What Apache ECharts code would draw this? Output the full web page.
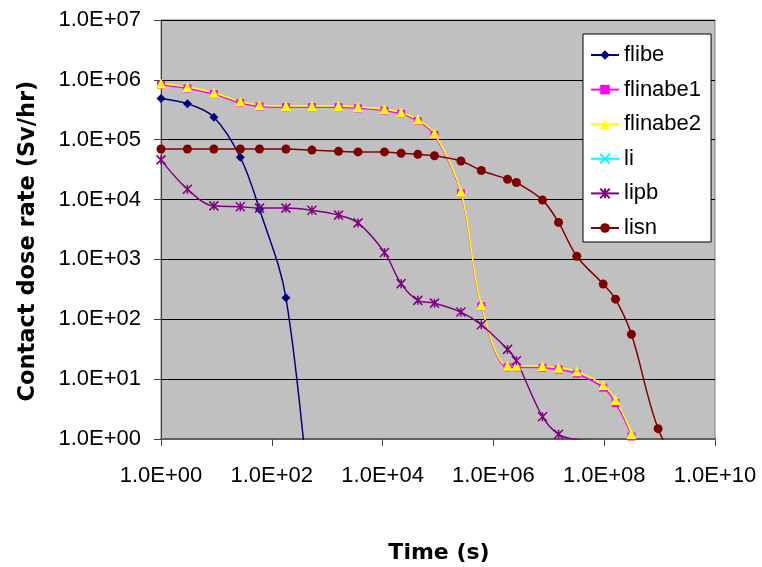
<!DOCTYPE html>
<html>
<head>
<meta charset="utf-8">
<script src="https://cdn.jsdelivr.net/npm/echarts@6/dist/echarts.min.js"></script>
<style>html,body{margin:0;padding:0;background:#fff;}#c{width:762px;height:567px;}</style>
</head>
<body>
<div id="c"></div>
<script>
// Time points (s)
const times = [1, 3, 9, 27, 60, 180, 530, 1600, 3600, 10800, 21600, 43200, 86400, 259200, 604800, 1.8e6, 2.6e6, 7.7e6, 1.5e7, 3.2e7, 9.6e7, 1.6e8, 3.1e8, 9.4e8, 3.15e9];
const seriesNames = ['flibe', 'flinabe1', 'flinabe2', 'li', 'lipb', 'lisn'];
const flibe = [4.9e5, 4.0e5, 2.38e5, 5.1e4, 6.9e3, 229, 0.03];
const flinabe1 = [8.3e5, 7.2e5, 5.8e5, 4.1e5, 3.6e5, 3.5e5, 3.5e5, 3.5e5, 3.35e5, 3.05e5, 2.7e5, 2.05e5, 1.2e5, 1.28e4, 165, 15.8, 15.8, 15.5, 14.5, 12.3, 7.2, 4.0, 1.1, 0.018];
const flinabe2 = [8.7e5, 7.6e5, 6.1e5, 4.35e5, 3.8e5, 3.67e5, 3.67e5, 3.67e5, 3.53e5, 3.23e5, 2.85e5, 2.17e5, 1.27e5, 1.35e4, 173, 16.7, 16.7, 16.5, 15.5, 13.5, 8.0, 4.5, 1.21, 0.02];
const li = [];
const lipb = [4.6e4, 1.49e4, 7.85e3, 7.6e3, 7.2e3, 7.2e3, 6.65e3, 5.5e3, 4.08e3, 1.31e3, 394, 207, 186, 132, 81, 31.4, 20.3, 2.36, 1.2, 0.98, 0.93];
const lisn = [7.0e4, 7.0e4, 7.0e4, 7.0e4, 7.0e4, 7.0e4, 6.7e4, 6.4e4, 6.25e4, 6.25e4, 5.95e4, 5.7e4, 5.4e4, 4.4e4, 3.06e4, 2.19e4, 1.93e4, 9.8e3, 4.15e3, 1.13e3, 387, 217, 56, 1.49, 0.2];
const yTickExp = [0, 1, 2, 3, 4, 5, 6, 7];
const xTickExp = [0, 2, 4, 6, 8, 10];

function pairs(vals) { return vals.map((v, i) => [times[i], v]); }
function fmt(v) {
  const e = Math.round(Math.log10(v));
  return '1.0E' + (e < 0 ? '-' : '+') + String(Math.abs(e)).padStart(2, '0');
}
const asterisk = 'path://M0,0L10,10M10,0L0,10M5,0L5,10';
const xmark = 'path://M0,0L10,10M10,0L0,10';

const styles = {
  flibe: { color: '#000080', symbol: 'diamond', size: 9 },
  flinabe1: { color: '#ff00ff', symbol: 'rect', size: 8 },
  flinabe2: { color: '#ffff00', symbol: 'triangle', size: 10 },
  li: { color: '#00ffff', symbol: xmark, size: 8, stroke: true },
  lipb: { color: '#800080', symbol: asterisk, size: 9, stroke: true },
  lisn: { color: '#800000', symbol: 'circle', size: 9 }
};
const dataMap = { flibe, flinabe1, flinabe2, li, lipb, lisn };

const series = seriesNames.map(n => {
  const s = styles[n];
  return {
    name: n, type: 'line', data: pairs(dataMap[n]),
    smooth: 0.35, clip: true,
    symbol: s.symbol, symbolSize: s.size, showSymbol: true,
    lineStyle: { color: s.color, width: 1.5 },
    itemStyle: s.stroke ? { color: 'rgba(0,0,0,0)', borderColor: s.color, borderWidth: 1.5 } : { color: s.color, borderWidth: 0 },
    emphasis: { disabled: true },
    animation: false
  };
});

const chart = echarts.init(document.getElementById('c'), null, { renderer: 'canvas' });
chart.setOption({
  animation: false,
  backgroundColor: '#ffffff',
  textStyle: { fontFamily: '"Liberation Sans", Arial, sans-serif' },
  grid: { left: 161, top: 20, width: 554, height: 419, show: true, backgroundColor: '#c0c0c0', borderColor: '#808080', borderWidth: 1 },
  legend: {
    orient: 'vertical', left: 583, top: 34,
    backgroundColor: '#ffffff', borderColor: '#000000', borderWidth: 1,
    padding: [10, 10, 3, 7],
    itemWidth: 28, itemHeight: 12, itemGap: 12.6,
    textStyle: { fontSize: 22, color: '#000', fontFamily: '"Liberation Sans", Arial, sans-serif' },
    data: seriesNames
  },
  xAxis: {
    type: 'log', logBase: 10, min: Math.pow(10, xTickExp[0]), max: Math.pow(10, xTickExp[xTickExp.length - 1]), interval: 2,
    axisLine: { show: true, lineStyle: { color: '#606060', width: 2 } },
    axisTick: { show: true, length: 7, lineStyle: { color: '#404040' } },
    minorTick: { show: false },
    splitLine: { show: false },
    axisLabel: { formatter: fmt, fontSize: 22, color: '#000', margin: 26 }
  },
  yAxis: {
    type: 'log', logBase: 10, min: Math.pow(10, yTickExp[0]), max: Math.pow(10, yTickExp[yTickExp.length - 1]), interval: 1,
    axisLine: { show: true, lineStyle: { color: '#404040', width: 1 } },
    axisTick: { show: true, length: 7, lineStyle: { color: '#404040' } },
    splitLine: { show: true, lineStyle: { color: '#000000', width: 1 } },
    axisLabel: { formatter: fmt, fontSize: 22, color: '#000', margin: 20 }
  },
  graphic: [
    { type: 'text', position: [439, 553], style: { text: 'Time (s)', font: 'bold 22px "DejaVu Sans"', fill: '#000', textAlign: 'center', textVerticalAlign: 'middle' } },
    { type: 'text', rotation: Math.PI / 2, position: [28, 241], style: { text: 'Contact dose rate (Sv/hr)', font: 'bold 22.5px "DejaVu Sans"', fill: '#000', textAlign: 'center', textVerticalAlign: 'middle' } }
  ],
  series: series
});
</script>
</body>
</html>
